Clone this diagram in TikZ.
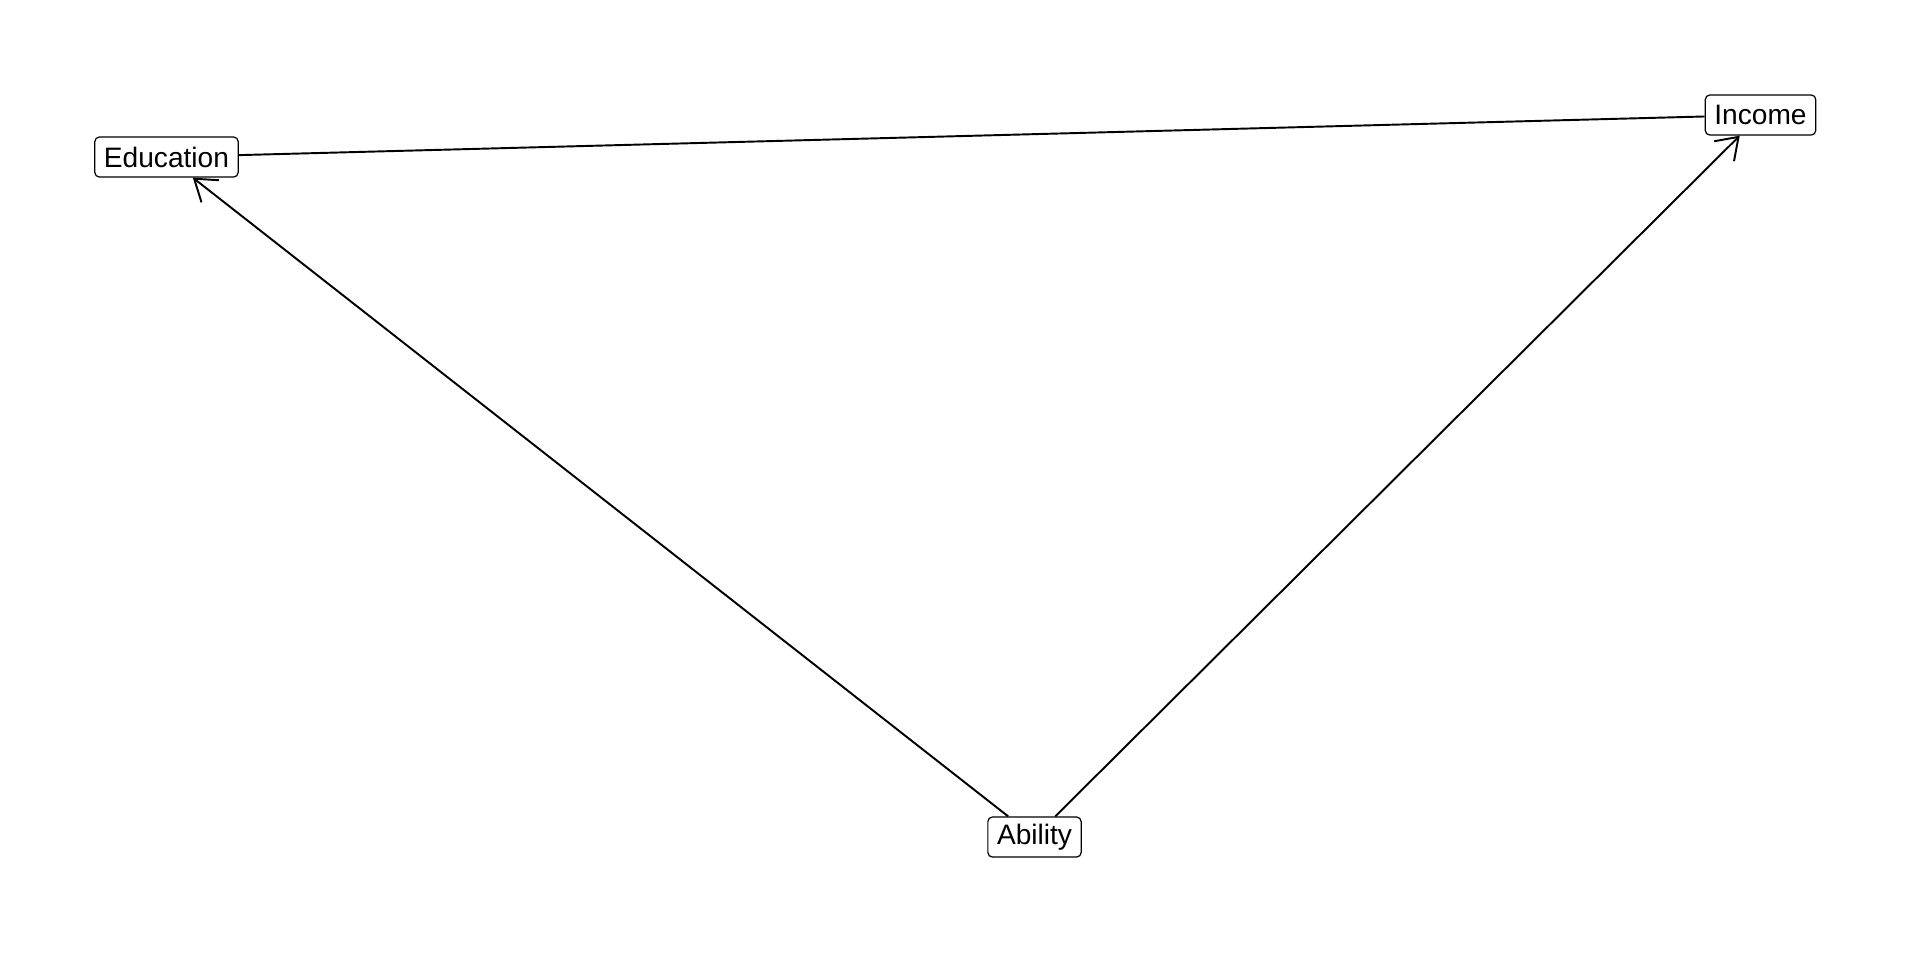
\documentclass[tikz,border=0pt]{standalone}
\usepackage{fontspec}
\setmainfont{Liberation Sans}
\usepackage{tikz}
\usetikzlibrary{arrows.meta, positioning}
\tikzset{>={Straight Barb[length=5.8pt,width=8pt]}}
\tikzset{var/.style={draw, rounded corners=1.3pt, line width=0.35pt, fill=white,
    inner xsep=2.6pt, inner ysep=0pt, minimum height=11.4pt,
    font=\fontsize{8}{9.6}\selectfont}}

\begin{document}
\begin{tikzpicture}[line width=0.55pt]
    \useasboundingbox (0,0) rectangle (19.2,-9.6);
    \node[var] (edu) at (1.665,-1.57) {Education};
    \node[var] (inc) at (17.605,-1.15) {Income};
    \node[var] (abl) at (10.345,-8.37) {Ability};
    \path
        (edu)    edge                (inc)
        (abl)    edge [->]           (edu)
        (abl)    edge [->]           (inc)
    ;
\end{tikzpicture}
\end{document}
